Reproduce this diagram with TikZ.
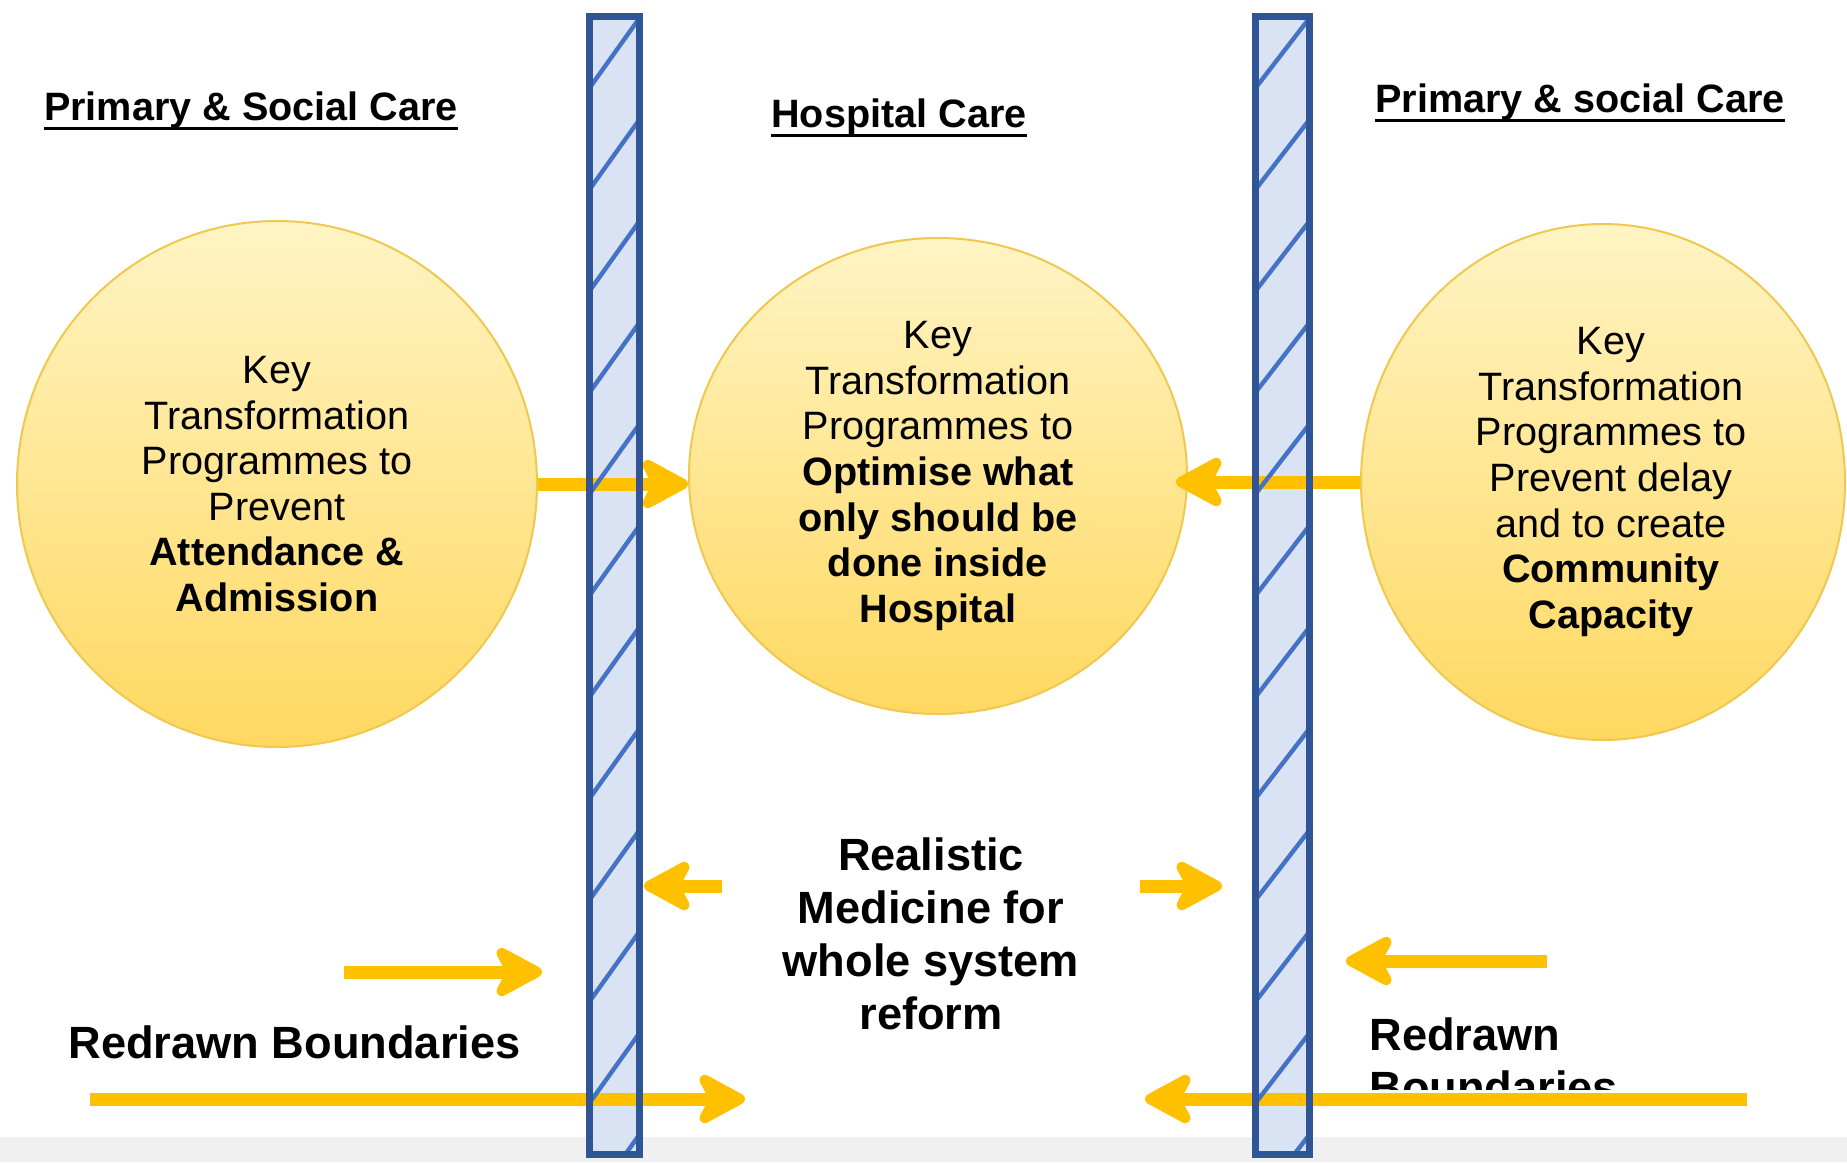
\documentclass[tikz,border=0pt]{standalone}
\usepackage{fontspec}
\setmainfont{Liberation Sans}
\usetikzlibrary{arrows.meta,shapes.geometric}
\definecolor{gold}{RGB}{255,192,0}
\definecolor{barblue}{RGB}{47,85,151}
\definecolor{hatchblue}{RGB}{68,114,196}
\definecolor{barfill}{RGB}{218,227,243}
\definecolor{ringgold}{RGB}{240,200,80}
\definecolor{paleyel}{RGB}{255,244,196}
\definecolor{deepyel}{RGB}{255,216,96}

\begin{document}
\begin{tikzpicture}[x=0.5pt,y=-0.5pt,every node/.style={inner sep=0pt},
    circ/.style={ellipse,draw=ringgold,line width=1pt,top color=paleyel,bottom color=deepyel},
    ctext/.style={align=center,font=\fontsize{19.8pt}{22.8pt}\selectfont},
    head/.style={anchor=base,font=\fontsize{19.8pt}{22pt}\selectfont\bfseries},
    big/.style={font=\fontsize{22.6pt}{26.5pt}\selectfont\bfseries},
    arr/.style={draw=gold,line width=6.5pt,-{Stealth[length=29pt,width=31pt,inset=8pt,round]}},
    barline/.style={draw=barblue,line width=3.4pt},
    hatch/.style={draw=hatchblue,line width=2.2pt}]
  \useasboundingbox (0,0) rectangle (1847,1162);
  \fill[gray!12] (0,1137) rectangle (1847,1162);

  % the two boundaries (fill first, outline later)
  \foreach \bl/\br in {589.5/639.5,1255.5/1309.5}
    \fill[barfill] (\bl,16.5) rectangle (\br,1154.5);

  \node[circ,ctext,minimum width=260pt,minimum height=263pt] (lcirc) at (277,484)
    {Key\\Transformation\\Programmes to\\Prevent\\\textbf{Attendance \&}\\\textbf{Admission}};
  \node[circ,ctext,minimum width=249pt,minimum height=238pt] (mcirc) at (938,476)
    {Key\\Transformation\\Programmes to\\\textbf{Optimise what}\\\textbf{only should be}\\\textbf{done inside}\\\textbf{Hospital}};
  \node[circ,minimum width=242pt,minimum height=258pt] (rcirc) at (1603,482) {};
  \node[ctext] (rtext) at (1611,482)
    {Key\\Transformation\\Programmes to\\Prevent delay\\and to create\\\textbf{Community}\\\textbf{Capacity}};

  \node[head] (hA) at (251,120) {Primary \& Social Care};
  \node[head] (hB) at (899,127) {Hospital Care};
  \node[head] (hC) at (1580,112) {Primary \& social Care};
  \foreach \h in {hA,hB,hC}
    \draw[line width=1.5pt] ([yshift=-4pt]\h.base west) -- ([yshift=-4pt]\h.base east);

  \node[big,align=center] (real) at (931,934) {Realistic\\Medicine for\\whole system\\reform};
  \node[big,anchor=base west] (rbL) at (68,1058) {Redrawn Boundaries};
  \begin{scope}
    \clip (1300,990) rectangle (1700,1089);
    \node[big,align=left,anchor=north west] (rbR) at (1369,1017) {Redrawn\\Boundaries};
  \end{scope}

  % arrow ends
  \coordinate (mL0) at (722,886);  \coordinate (mL1) at (644,886);
  \coordinate (mR0) at (1140,886); \coordinate (mR1) at (1222,886);
  \coordinate (sL0) at (344,972);  \coordinate (sL1) at (542,972);
  \coordinate (sR0) at (1547,961); \coordinate (sR1) at (1346,961);
  \coordinate (bL0) at (90,1099);  \coordinate (bL1) at (745,1099);
  \coordinate (bR0) at (1747,1099); \coordinate (bR1) at (1145,1099);

  \draw[arr] (lcirc.east) -- (lcirc.east -| mcirc.west);
  \draw[arr] (rcirc.west) -- ([xshift=-6pt]rcirc.west -| mcirc.east);
  \foreach \a in {mL,mR,sL,sR,bL,bR}
    \draw[arr] (\a0) -- (\a1);

  % outlines and hatching on top
  \foreach \bl/\br in {589.5/639.5,1255.5/1309.5}{
    \begin{scope}
      \clip (\bl,16.5) rectangle (\br,1154.5);
      \foreach \k in {0,...,11}
        \draw[hatch] (\bl,{88+101.5*\k}) -- (\br,{18+101.5*\k});
    \end{scope}
    \draw[barline] (\bl,16.5) rectangle (\br,1154.5);
  }
\end{tikzpicture}
\end{document}
